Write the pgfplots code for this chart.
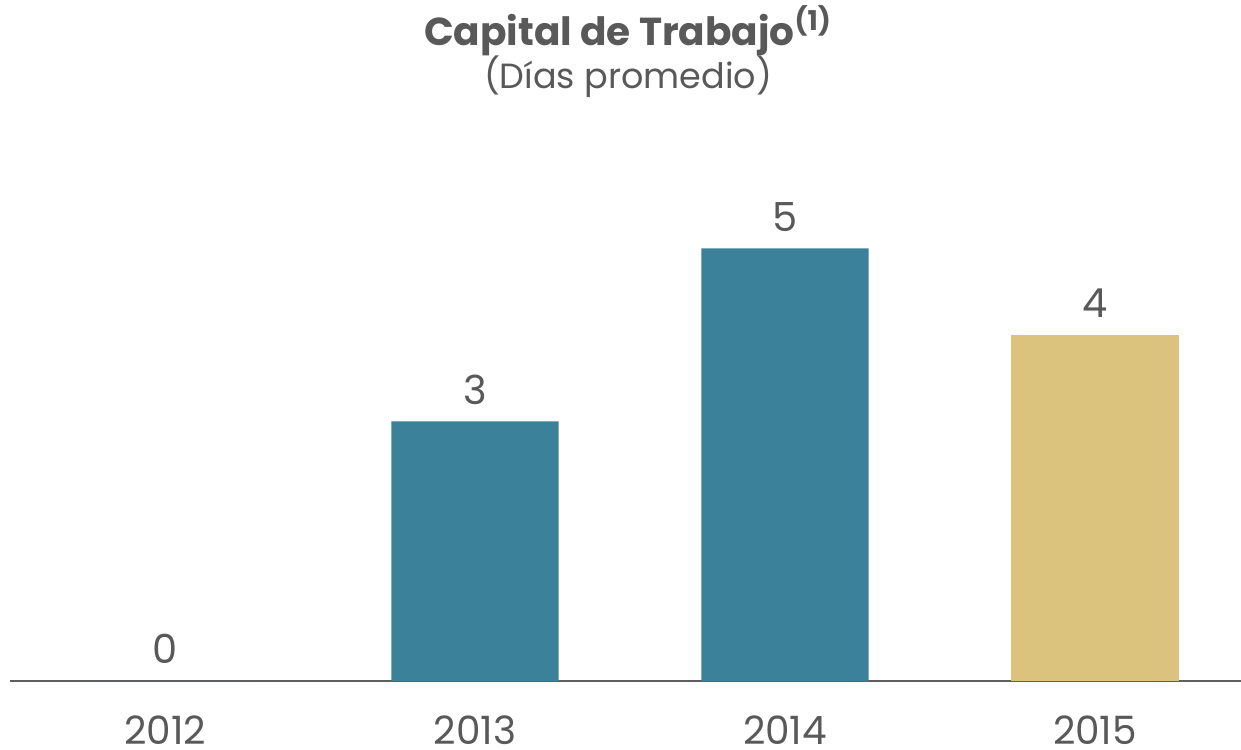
\documentclass[border=0pt]{standalone}
\usepackage{pgfplots}
\pgfplotsset{compat=1.18}
\usepackage{fontspec}
\setmainfont{Poppins}
\definecolor{teal}{HTML}{3B8199}
\definecolor{gold}{HTML}{DBC37D}
\definecolor{txt}{HTML}{595959}
\definecolor{axg}{HTML}{5F5F5F}
\begin{document}
\begin{tikzpicture}
\useasboundingbox (-5pt,-34pt) rectangle (615.5pt,340.5pt);
\begin{axis}[
  at={(0,0)}, anchor=south west,
  scale only axis, width=615.5pt, height=259.5pt,
  xmin=-0.5, xmax=3.471, ymin=0, ymax=6,
  axis x line*=bottom, axis y line=none,
  x axis line style={draw=axg, line width=1.4pt, -},
  xtick={0,1,2,3}, xticklabels={2012,2013,2014,2015},
  xtick style={draw=none},
  xticklabel style={font=\fontsize{19.5}{22}\selectfont, text=txt, inner sep=0pt, yshift=-13pt},
  /pgf/number format/assume math mode=true,
  ybar, bar width=0.539, bar shift=0pt,
  nodes near coords,
  every node near coord/.append style={font=\fontsize{20}{24}\selectfont, text=txt, yshift=5pt},
  clip=false,
]
\addplot[fill=teal, draw=none] coordinates {(0,0) (1,3) (2,5)};
\addplot[fill=gold, draw=none] coordinates {(3,4)};
\end{axis}
\node[text=txt, font=\fontsize{19.5}{23}\selectfont\bfseries] at (309pt,325pt) {Capital de Trabajo\textsuperscript{(1)}};
\node[text=txt, font=\fontsize{17.5}{21}\selectfont] at (309pt,302pt) {(Días promedio)};
\end{tikzpicture}
\end{document}
